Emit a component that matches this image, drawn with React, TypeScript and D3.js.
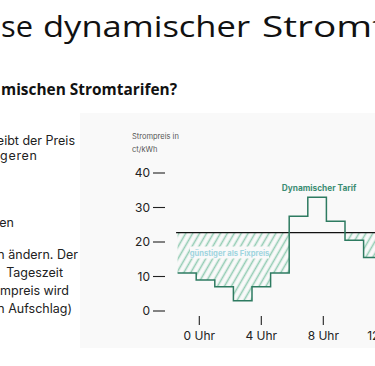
import React from 'react';
import * as d3 from 'd3';

const W = 375;
const H = 366;

// step edges in hours (last one closes the final step)
const stepEdges = [-1.4, -0.2, 1.0, 2.2, 3.4, 4.6, 5.8, 7.0, 8.2, 9.4, 10.6, 11.8];
const stepPrices = [11, 9, 7, 3, 7, 11, 27.5, 33, 26, 20.5, 15.5];
const fixedPrice = 22.7;
const yTicks = [0, 10, 20, 30, 40];
const xTicks = [0, 4, 8, 12];

const PANEL = '#f9f9f9';
const LINE = '#2e7b61';
const HATCH = '#93ccb3';

const App: React.FC = () => {
    const x = d3.scaleLinear().domain([0, 12]).range([199.3, 385.3]);
    const y = d3.scaleLinear().domain([0, 40]).range([311, 173]);

    const pts = stepPrices.map((v, i) => ({ h: stepEdges[i], v }));
    pts.push({ h: stepEdges[stepEdges.length - 1], v: stepPrices[stepPrices.length - 1] });

    const stepLine = d3.line<{ h: number; v: number }>()
        .x(d => x(d.h))
        .y(d => y(d.v))
        .curve(d3.curveStepAfter);

    const hatchArea = d3.area<{ h: number; v: number }>()
        .x(d => x(d.h))
        .y0(y(fixedPrice))
        .y1(d => y(Math.min(d.v, fixedPrice)))
        .curve(d3.curveStepAfter);

    const x0 = x(stepEdges[0]);

    return (
        <svg width={W} height={H} style={{ position: 'fixed', left: 0, top: 0, background: '#fff' }}>
            <defs>
                <pattern id="hatch" patternUnits="userSpaceOnUse" width={6} height={6} patternTransform="rotate(30)">
                    <line x1={1.5} y1={0} x2={1.5} y2={6} stroke={HATCH} strokeWidth={1.6} />
                </pattern>
            </defs>

            {/* slide title, cut at the left edge */}
            <text y={37} fontFamily="Open Sans" fontSize={30} fill="#111">
                <tspan x={1} textLength={32} lengthAdjust="spacingAndGlyphs">se</tspan>
                <tspan x={43} textLength={207} lengthAdjust="spacingAndGlyphs">dynamischer</tspan>
                <tspan x={262} textLength={206} lengthAdjust="spacingAndGlyphs">Stromtarife</tspan>
            </text>
            <text x={1} y={95} fontFamily="Open Sans" fontWeight={700} fontSize={15.5} fill="#111" textLength={176} lengthAdjust="spacingAndGlyphs">
                mischen Stromtarifen?
            </text>

            {/* body copy */}
            <g fontFamily="Inter" fontSize={12.5} fill="#222" textAnchor="end">
                <text x={75} y={145}>eibt der Preis</text>
                <text x={37} y={160} textLength={37}>geren</text>
                <text x={14} y={227}>en</text>
                <text x={78} y={259}>n ändern. Der</text>
                <text x={63} y={277}>Tageszeit</text>
                <text x={69} y={295}>mpreis wird</text>
                <text x={72} y={313}>n Aufschlag)</text>
            </g>

            {/* chart panel */}
            <rect x={80} y={113} width={W - 80} height={235} fill={PANEL} />

            <g fontFamily="Inter" fill="#555" fontSize={7.5}>
                <text x={132} y={139}>Strompreis in</text>
                <text x={132} y={152}>ct/kWh</text>
            </g>

            {yTicks.map(t => (
                <g key={t} transform={`translate(0,${y(t)})`}>
                    <text x={150} y={4.3} textAnchor="end" fontFamily="Inter" fontSize={12} fill="#222">{t}</text>
                    <line x1={153} x2={165} stroke="#222" strokeWidth={1.1} />
                </g>
            ))}

            {xTicks.map(t => (
                <g key={t} transform={`translate(${x(t)},0)`}>
                    <line y1={316} y2={325} stroke="#222" strokeWidth={1.1} />
                    <text y={340} textAnchor="middle" fontFamily="Inter" fontSize={12} fill="#222">{t} Uhr</text>
                </g>
            ))}

            <path d={hatchArea(pts) || ''} fill="url(#hatch)" />

            <g>
                <rect x={190} y={246.5} width={79} height={12} fill={PANEL} />
                <text x={229.5} y={255.5} textAnchor="middle" fontFamily="Inter" fontWeight={700} fontSize={7.6} fill="#9fd5df">
                    günstiger als Fixpreis
                </text>
            </g>

            <line x1={x0 - 1.5} x2={W} y1={y(fixedPrice)} y2={y(fixedPrice)} stroke="#111" strokeWidth={1.3} />

            <path d={stepLine(pts) || ''} fill="none" stroke={LINE} strokeWidth={1.5} />

            <text x={319} y={191} textAnchor="middle" fontFamily="Inter" fontWeight={700} fontSize={8.3} fill="#3c8d73">
                Dynamischer Tarif
            </text>
        </svg>
    );
};

export default App;
